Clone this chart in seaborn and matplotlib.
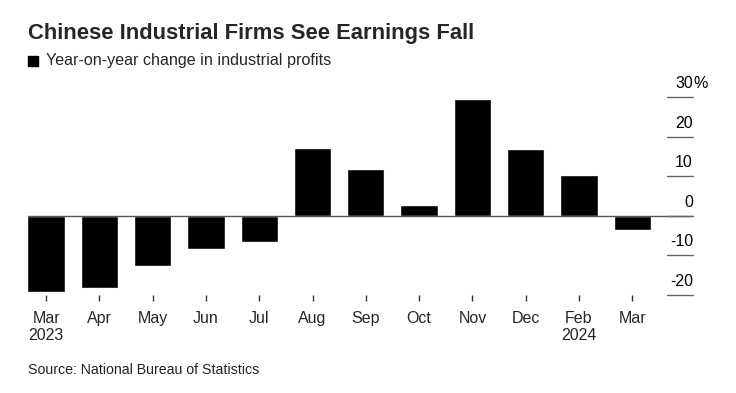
import matplotlib
matplotlib.use("Agg")
import matplotlib.pyplot as plt
import matplotlib.transforms as mtransforms
from matplotlib.patches import Rectangle
import seaborn as sns
import pandas as pd

# --- Data ---
months = ["Mar\n2023", "Apr", "May", "Jun", "Jul", "Aug", "Sep", "Oct", "Nov", "Dec", "Feb\n2024", "Mar"]
profit_change = [-19.2, -18.2, -12.6, -8.3, -6.7, 17.2, 11.9, 2.7, 29.5, 16.8, 10.2, -3.5]
y_ticks = [30, 20, 10, 0, -10, -20]

TITLE = "Chinese Industrial Firms See Earnings Fall"
SUBTITLE = "Year-on-year change in industrial profits"
SOURCE = "Source: National Bureau of Statistics"


def main():
    df = pd.DataFrame({"month": months, "value": profit_change})

    sns.set_theme(style="white")
    plt.rcParams["font.family"] = ["Liberation Sans", "DejaVu Sans"]

    fig = plt.figure(figsize=(7.36, 3.93), dpi=100)
    ax = fig.add_axes([28 / 736, 1 - 301 / 393, 665 / 736, 204 / 393])

    sns.barplot(data=df, x="month", y="value", color="black", width=0.7,
                saturation=1, ax=ax, zorder=2)

    ax.set_xlim(-0.34, 12.14)
    ax.set_ylim(-21.5, 30)
    for s in ax.spines.values():
        s.set_visible(False)
    ax.set_xlabel("")
    ax.set_ylabel("")
    ax.set_yticks([])

    # zero line across the plot, short grid segments on the right
    ax.axhline(0, color="#555555", lw=1, zorder=3)
    trans = mtransforms.blended_transform_factory(ax.transAxes, ax.transData)
    for t in y_ticks:
        ax.plot([0.961, 1.0], [t, t], transform=trans, color="#666666", lw=1,
                clip_on=False, zorder=3)
        off = mtransforms.offset_copy(trans, fig=fig, x=0, y=6, units="dots")
        ax.text(1.0, t, f"{t}", transform=off, ha="right", va="bottom",
                fontsize=11.5, color="black", clip_on=False)
        if t == 30:
            ax.text(1.0, t, "%", transform=off, ha="left", va="bottom",
                    fontsize=11.5, color="black", clip_on=False)

    ax.tick_params(axis="x", direction="in", length=4, width=1, color="#333333",
                   pad=7, labelsize=11.5, bottom=True)
    for lab in ax.get_xticklabels():
        lab.set_linespacing(1.2)

    fig.text(28 / 736, 1 - 33 / 393, TITLE, fontsize=15.8, fontweight="bold",
             va="center", ha="left")
    # legend square
    fig.patches.append(Rectangle((28 / 736, 1 - 66 / 393), 10 / 736, 10 / 393,
                                 transform=fig.transFigure, color="black"))
    fig.text(46 / 736, 1 - 61 / 393, SUBTITLE, fontsize=11.6, va="center", ha="left")
    fig.text(28 / 736, 1 - 370 / 393, SOURCE, fontsize=10.2, va="center", ha="left",
             color="#222222")

    fig.savefig("out.png", dpi=100)


if __name__ == "__main__":
    main()
